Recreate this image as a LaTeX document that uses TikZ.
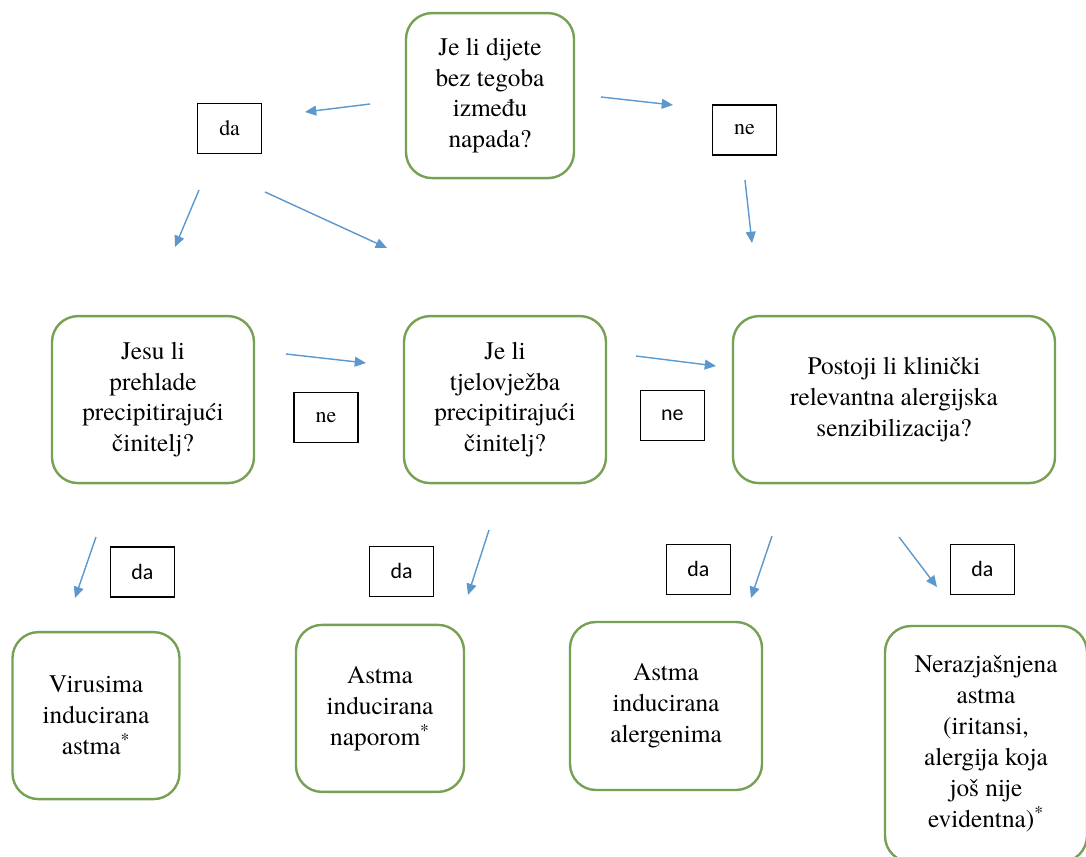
\documentclass[tikz,border=0pt]{standalone}
\usepackage{fontspec}
\setmainfont{texgyretermes}[Extension=.otf, UprightFont=*-regular, BoldFont=*-bold, ItalicFont=*-italic, BoldItalicFont=*-bolditalic]
\newfontfamily\lblsans{Carlito}
\usetikzlibrary{arrows.meta}
\definecolor{boxgreen}{RGB}{118,160,84}
\definecolor{arrblue}{RGB}{92,152,206}

\begin{document}
\begin{tikzpicture}[
        qbox/.style={draw=boxgreen, line width=1.7pt, rounded corners=0.65cm, align=center, inner sep=2pt, font=\fontsize{18}{22}\selectfont},
        lbox/.style={draw=black, line width=0.9pt, minimum width=1.6cm, minimum height=1.25cm, inner sep=0pt, font=\fontsize{15.6}{18}\selectfont},
        lsans/.style={lbox, font=\lblsans\fontsize{15.6}{18}\selectfont},
        arr/.style={draw=arrblue, line width=1pt, -{Triangle[length=8pt,width=7pt]}}
    ]
        \useasboundingbox (0,0) rectangle (27.15,-21.425);
        \clip (0,0) rectangle (27.15,-21.425);

        \node[qbox, minimum width=4.2cm, minimum height=4.125cm] (pitanje) at (12.25,-2.39) {Je li dijete\\bez tegoba\\između\\napada?};
        \node[qbox, minimum width=5.05cm, minimum height=4.175cm] (prehlade) at (3.825,-9.99) {Jesu li\\prehlade\\precipitirajući\\činitelj?};
        \node[qbox, minimum width=5.05cm, minimum height=4.175cm] (tjelovjezba) at (12.625,-9.99) {Je li\\tjelovježba\\precipitirajući\\činitelj?};
        \node[qbox, minimum width=8.05cm, minimum height=4.175cm] (alergija) at (22.35,-9.99) {Postoji li klinički\\relevantna alergijska\\senzibilizacija?};

        \node[qbox, minimum width=4.175cm, minimum height=4.175cm] (virusi) at (2.4,-17.89) {Virusima\\inducirana\\astma\textsuperscript{*}};
        \node[qbox, minimum width=4.2cm, minimum height=4.175cm] (napor) at (9.5,-17.71) {Astma\\inducirana\\naporom\textsuperscript{*}};
        \node[qbox, minimum width=4.8cm, minimum height=4.2cm] (alergeni) at (16.65,-17.65) {Astma\\inducirana\\alergenima};
        \node[qbox, minimum width=5.05cm, minimum height=5.9cm] (nejasno) at (24.65,-18.6) {Nerazjašnjena\\astma\\(iritansi,\\alergija koja\\još nije\\evidentna)\textsuperscript{*}};

        \node[lbox] (da1) at (5.74,-3.21) {da};
        \node[lbox] (ne1) at (18.61,-3.25) {ne};
        \node[lbox] (ne2) at (8.15,-10.43) {ne};
        \node[lsans] (ne3) at (16.81,-10.39) {ne};
        \node[lsans] (da2) at (3.56,-14.3) {da};
        \node[lsans] (da3) at (10.04,-14.28) {da};
        \node[lsans] (da4) at (17.46,-14.23) {da};
        \node[lsans] (da5) at (24.56,-14.23) {da};

        \coordinate (s1) at (9.25,-2.6);     \coordinate (e1) at (7.625,-2.8);
        \coordinate (s2) at (15.025,-2.425); \coordinate (e2) at (16.825,-2.625);
        \coordinate (s3) at (4.975,-4.75);   \coordinate (e3) at (4.375,-6.175);
        \coordinate (s4) at (6.625,-4.8);    \coordinate (e4) at (9.675,-6.2);
        \coordinate (s5) at (18.625,-4.5);   \coordinate (e5) at (18.8,-6.075);
        \coordinate (s6) at (7.15,-8.85);    \coordinate (e6) at (9.15,-9.075);
        \coordinate (s7) at (15.9,-8.9);     \coordinate (e7) at (17.9,-9.15);
        \coordinate (s8) at (2.4,-13.425);   \coordinate (e8) at (1.875,-14.95);
        \coordinate (s9) at (12.225,-13.25); \coordinate (e9) at (11.7,-14.875);
        \coordinate (s10) at (19.3,-13.4);   \coordinate (e10) at (18.775,-14.95);
        \coordinate (s11) at (22.475,-13.425); \coordinate (e11) at (23.425,-14.675);
        \foreach \i in {1,...,11}
            \draw[arr] (s\i) -- (e\i);
    \end{tikzpicture}
\end{document}
